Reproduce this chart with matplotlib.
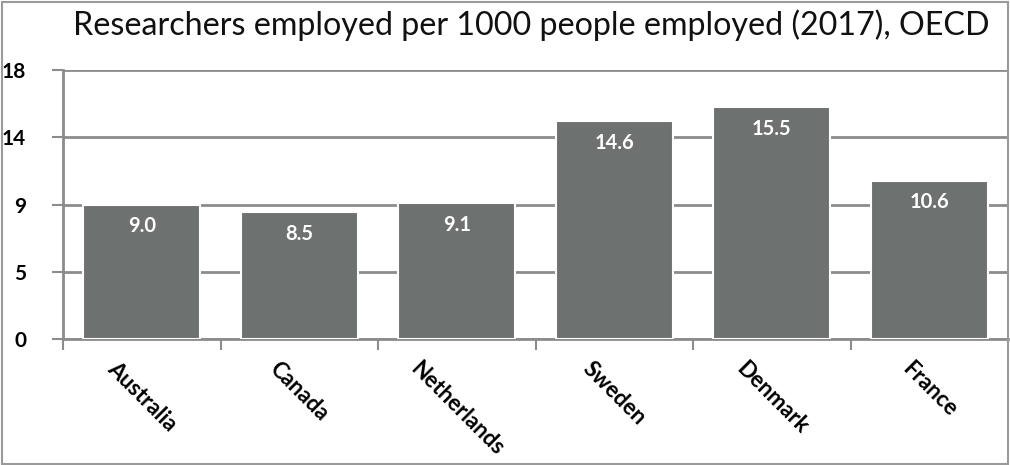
import matplotlib
matplotlib.use("Agg")
import matplotlib.pyplot as plt
from matplotlib.patches import Rectangle

plt.rcParams['font.family'] = ['Lato', 'DejaVu Sans']

countries = ["Australia", "Canada", "Netherlands", "Sweden", "Denmark", "France"]
researchers = [9.0, 8.5, 9.1, 14.6, 15.5, 10.6]
value_labels = ["9.0", "8.5", "9.1", "14.6", "15.5", "10.6"]
y_ticks = [0, 4.5, 9, 13.5, 18]
y_tick_labels = ["0", "5", "9", "14", "18"]
title = "Researchers employed per 1000 people employed (2017), OECD"

W, H = 1010, 465
fig = plt.figure(figsize=(W / 100, H / 100), dpi=100)
ax = fig.add_axes([63 / W, (H - 339) / H, (1008 - 63) / W, (339 - 70) / H])

grid_col = "#8c8c8c"
bar_col = "#6d7270"

x = list(range(len(countries)))
bars = ax.bar(x, researchers, width=0.74, color=bar_col, edgecolor="white",
              linewidth=1.5, zorder=3)

for xi, v, lab in zip(x, researchers, value_labels):
    ax.annotate(lab, (xi, v), xytext=(0, -8.5), textcoords="offset points",
                ha="center", va="top", color="white", fontsize=14.5,
                fontweight="bold", zorder=4)

ax.set_xlim(-0.5, len(countries) - 0.5)
ax.set_ylim(0, 18)

ax.set_yticks(y_ticks)
ax.set_yticklabels(y_tick_labels, fontsize=15, fontweight="bold")
ax.tick_params(axis="y", length=8, width=1.5, color=grid_col, pad=18.5)

ax.set_xticks(x)
ax.set_xticklabels(countries, fontsize=16, fontweight="bold", rotation=-45,
                   ha="center", va="top")
ax.tick_params(axis="x", which="major", length=0, pad=14)
ax.set_xticks([i - 0.5 for i in range(len(countries))], minor=True)
ax.tick_params(axis="x", which="minor", length=8, width=1.5, color=grid_col)

ax.yaxis.grid(True, color=grid_col, linewidth=2)
ax.set_axisbelow(True)
for side in ["top", "right"]:
    ax.spines[side].set_visible(False)
for side in ["left", "bottom"]:
    ax.spines[side].set_color(grid_col)
    ax.spines[side].set_linewidth(2)

fig.text(531 / W, (H - 35) / H, title, ha="center", va="baseline",
         fontsize=23.2, color="#111111")

fig.patches.append(Rectangle((0.002, 0.003), 0.996, 0.993, transform=fig.transFigure,
                             fill=False, edgecolor="#9a9a9a", linewidth=1.5))

fig.savefig("out.png", dpi=100)
